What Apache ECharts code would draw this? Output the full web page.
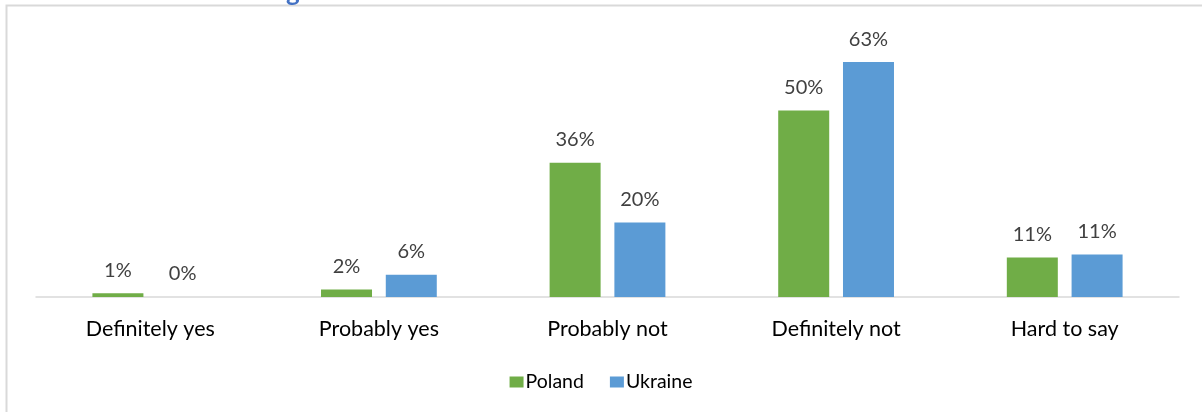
<!DOCTYPE html>
<html>
<head>
<meta charset="utf-8">
<script src="https://cdn.jsdelivr.net/npm/echarts@6/dist/echarts.min.js"></script>
<style>
html,body{margin:0;padding:0;background:#fff;}
#main{width:1202px;height:412px;}
</style>
</head>
<body>
<div id="main"></div>
<script>
var categories = ['Definitely yes', 'Probably yes', 'Probably not', 'Definitely not', 'Hard to say'];
var seriesNames = ['Poland', 'Ukraine'];
var poland = [1, 2, 36, 50, 10.6];
var ukraine = [0, 6, 20, 63, 11.4];

var FONT = 'Lato';
var chart = echarts.init(document.getElementById('main'));
var labelCfg = {
  show: true, position: 'top', distance: 13,
  color: '#404040', fontSize: 20, fontFamily: FONT,
  formatter: function (p) { return Math.round(p.value) + '%'; }
};
chart.setOption({
  animation: false,
  graphic: [
    { type: 'rect', shape: { x: 6.5, y: 5.5, width: 1300, height: 500 }, style: { fill: 'none', stroke: '#d9d9d9', lineWidth: 2 }, silent: true },
    { type: 'text', left: 286, top: -20, style: { text: 'g', fill: '#4472C4', font: 'bold 26px ' + FONT } }
  ],
  legend: {
    data: seriesNames, bottom: 15, left: 'center',
    itemWidth: 14, itemHeight: 11, itemGap: 26,
    icon: 'rect',
    textStyle: { color: '#000', fontSize: 19.5, fontFamily: FONT, padding: [0, 0, 0, -3] }
  },
  grid: { left: 36, right: 23, top: 36, bottom: 115, containLabel: false },
  xAxis: {
    type: 'category', data: categories,
    axisLine: { lineStyle: { color: '#d9d9d9', width: 1.5 } },
    axisTick: { show: false },
    axisLabel: { color: '#000', fontSize: 21.5, fontFamily: FONT, margin: 21 }
  },
  yAxis: {
    type: 'value', min: 0, max: 70, interval: 10,
    show: false, splitLine: { show: false }
  },
  series: [
    { name: 'Poland', type: 'bar', data: poland, itemStyle: { color: '#70AD47' },
      barWidth: 51, barGap: '27%', label: labelCfg },
    { name: 'Ukraine', type: 'bar', data: ukraine, itemStyle: { color: '#5B9BD5' },
      barWidth: 51, label: labelCfg }
  ]
});
</script>
</body>
</html>
